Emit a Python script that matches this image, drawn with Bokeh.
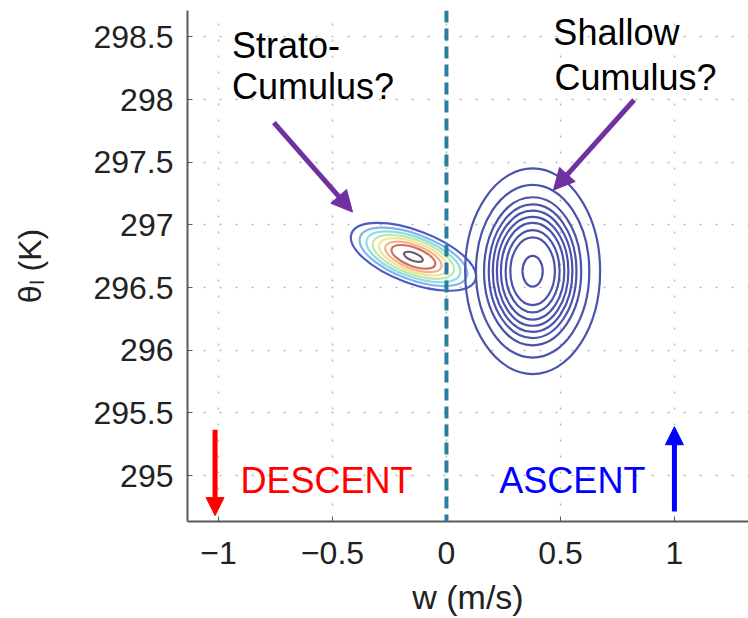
from bokeh.plotting import figure
from bokeh.models import (Range1d, Span, Arrow, NormalHead, ColumnDataSource,
                          FixedTicker, CustomJSTickFormatter)
from bokeh.core.properties import value
from bokeh.embed import file_html
from bokeh.resources import INLINE

FONT = "Liberation Sans"

# ---- axes / ticks ----
x_ticks = [-1, -0.5, 0, 0.5, 1]
x_tick_labels = ["\u22121", "\u22120.5", "0", "0.5", "1"]
y_ticks = [295, 295.5, 296, 296.5, 297, 297.5, 298, 298.5]
y_tick_labels = ["295", "295.5", "296", "296.5", "297", "297.5", "298", "298.5"]
x_label = "w (m/s)"
y_label = "\u03b8\u2097 (K)"

# ---- strato-cumulus mode (tilted contours, jet-like colours) ----
sc_w = -0.145
sc_theta = 296.745
sc_width = 0.58        # along w (outer contour)
sc_height = 0.42       # across (outer contour)
sc_tilt = -0.36        # rad
sc_levels = [1.0, 0.86, 0.75, 0.65, 0.55, 0.45, 0.35, 0.15]
sc_colors = ["#4b5cc4", "#86b2ee", "#8fdde6", "#bfe9a6", "#f2e39a",
             "#f2b489", "#cf6f60", "#6e5a6e"]

# ---- shallow cumulus mode (upright contours) ----
cu_w = 0.378
cu_theta = 296.63
cu_width = 0.592
cu_height = 1.64
cu_levels = [1.0, 0.84, 0.72, 0.65, 0.59, 0.53, 0.47, 0.40, 0.33, 0.15]
cu_color = "#4b53aa"

# ---- annotations ----
note_text = ["Strato-", "Cumulus?", "Shallow", "Cumulus?"]
note_w = [-0.941, -0.941, 0.469, 0.474]
note_theta = [298.432, 298.100, 298.535, 298.175]

regime_text = ["DESCENT", "ASCENT"]
regime_w = [-0.904, 0.232]
regime_theta = [294.96, 294.96]
regime_colors = ["#ff0000", "#0000ff"]

# pointer arrows: (w_start, theta_start, w_end, theta_end)
sc_arrow = [-0.757, 297.815, -0.412, 297.102]
cu_arrow = [0.823, 297.996, 0.469, 297.277]
descent_arrow = [-1.015, 295.366, -1.015, 294.681]
ascent_arrow = [1.0, 294.713, 1.0, 295.39]

Y_MIN, Y_MAX = 294.634, 298.71
p = figure(width=748, height=618,
           x_range=Range1d(-1.136, 1.325), y_range=Range1d(Y_MIN, Y_MAX),
           output_backend="svg", toolbar_location=None,
           min_border_left=187, min_border_right=0,
           min_border_top=10, min_border_bottom=96)
p.outline_line_color = None
p.background_fill_color = "white"
p.border_fill_color = "white"

fmt_code = """
const i = tv.indexOf(tick);
return i >= 0 ? tl[i] : String(tick);
"""
p.xaxis.ticker = FixedTicker(ticks=x_ticks, minor_ticks=[])
p.yaxis.ticker = FixedTicker(ticks=y_ticks, minor_ticks=[])
p.xaxis.formatter = CustomJSTickFormatter(args=dict(tv=x_ticks, tl=x_tick_labels), code=fmt_code)
p.yaxis.formatter = CustomJSTickFormatter(args=dict(tv=y_ticks, tl=y_tick_labels), code=fmt_code)

for ax in (p.xaxis[0], p.yaxis[0]):
    ax.axis_line_color = "#5a5a5a"
    ax.axis_line_width = 2
    ax.major_tick_in = 5
    ax.major_tick_out = 0
    ax.major_tick_line_color = "#5a5a5a"
    ax.minor_tick_line_color = None
    ax.major_label_text_font = FONT
    ax.major_label_text_font_size = "32px"
    ax.major_label_text_color = "#222222"
    ax.axis_label_text_font = FONT
    ax.axis_label_text_font_style = "normal"
    ax.axis_label_text_color = "#222222"
    ax.axis_label_text_font_size = "32px"

p.xaxis.axis_label = x_label
p.yaxis.axis_label = y_label
p.xaxis.axis_label_text_font_size = "34px"
p.xaxis.major_label_standoff = 20
p.xaxis.axis_label_standoff = 11
p.yaxis.major_label_standoff = 14
p.yaxis.axis_label_standoff = 42

for g in (p.xgrid[0], p.ygrid[0]):
    g.grid_line_color = "#b8b8b8"
    g.grid_line_width = 1.5
    g.grid_line_dash = "2 14"

# contours
sc_src = ColumnDataSource(dict(
    x=[sc_w] * len(sc_levels), y=[sc_theta] * len(sc_levels),
    w=[sc_width * s for s in sc_levels], h=[sc_height * s for s in sc_levels],
    a=[sc_tilt] * len(sc_levels), c=sc_colors))
p.ellipse(x="x", y="y", width="w", height="h", angle="a", source=sc_src,
          fill_color=None, line_color="c", line_width=2.2)

cu_src = ColumnDataSource(dict(
    x=[cu_w] * len(cu_levels), y=[cu_theta] * len(cu_levels),
    w=[cu_width * s for s in cu_levels], h=[cu_height * s for s in cu_levels]))
p.ellipse(x="x", y="y", width="w", height="h", source=cu_src,
          fill_color=None, line_color=cu_color, line_width=2.2)

# w = 0 divider
p.add_layout(Span(location=0, dimension="height", line_color="#2b7ca3",
                  line_width=4, line_dash="12 6"))

def add_arrow(coords, color, width, head):
    p.add_layout(Arrow(end=NormalHead(size=head, fill_color=color, line_color=color),
                       x_start=coords[0], y_start=coords[1],
                       x_end=coords[2], y_end=coords[3],
                       line_color=color, line_width=width))

add_arrow(sc_arrow, "#7030a0", 5, 21)
add_arrow(cu_arrow, "#7030a0", 5, 21)
add_arrow(descent_arrow, "#ff0000", 5, 18)
add_arrow(ascent_arrow, "#0000ff", 5, 18)

p.text(x=note_w, y=note_theta, text=note_text, text_font=value(FONT),
       text_font_size="36px", text_color="#000000",
       text_baseline="alphabetic", text_align="left")
p.text(x=regime_w, y=regime_theta, text=regime_text, text_font=value(FONT),
       text_font_size="36px", text_color=regime_colors,
       text_baseline="alphabetic", text_align="left")

open("out.html", "w").write(file_html(p, INLINE))
